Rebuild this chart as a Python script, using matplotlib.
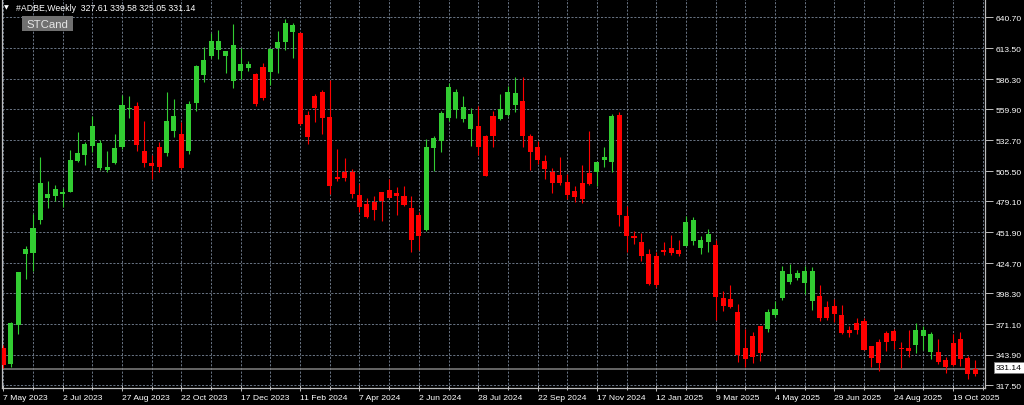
import matplotlib
matplotlib.use("Agg")
import matplotlib.pyplot as plt
from matplotlib.patches import Rectangle

# ---------------- data ----------------
symbol = "#ADBE,Weekly"
header_ohlc = ["327.61", "339.58", "325.05", "331.14"]
indicator = "STCand"

opens = [349.8, 335.9, 370.2, 432.4, 433.3, 462.8, 481.6, 483.9, 485.7, 487.2,
         514.1, 519.9, 527.3, 508.3, 506.5, 512.6, 526.4, 559.8, 563.0, 523.5,
         512.4, 527.0, 521.4, 540.8, 538.1, 523.5, 565.6, 590.3, 607.0, 612.2,
         606.4, 584.5, 593.2, 596.4, 590.6, 597.0, 592.4, 613.7, 618.7, 627.5,
         626.6, 554.8, 571.8, 575.1, 553.0, 500.3, 505.0, 505.0, 484.5, 476.3,
         478.1, 486.9, 488.6, 486.3, 483.9, 473.1, 466.9, 453.7, 525.6, 532.2,
         552.5, 559.0, 551.6, 542.5, 544.9, 536.6, 553.9, 551.3, 554.8, 563.9,
         567.1, 536.6, 526.7, 514.7, 505.0, 502.4, 496.2, 488.0, 495.1, 503.9,
         504.5, 515.5, 513.3, 554.8, 466.3, 448.7, 442.9, 432.9, 430.9, 436.5,
         437.9, 436.5, 439.9, 444.3, 437.9, 443.5, 440.8, 393.7, 393.1, 381.4,
         350.0, 360.8, 369.6, 366.7, 379.1, 393.7, 407.8, 411.9, 407.2, 391.6,
         395.4, 386.0, 387.2, 379.0, 365.9, 372.0, 373.8, 351.5, 355.6, 362.9,
         364.7, 350.0, 350.0, 352.7, 360.9, 346.8, 346.2, 339.8, 354.4, 357.9,
         341.5, 327.61]
highs = [352.7, 373.2, 417.0, 440.0, 467.8, 517.6, 496.8, 493.3, 490.9, 524.3,
         539.9, 530.8, 553.7, 533.1, 523.5, 538.1, 572.4, 571.3, 566.0, 549.8,
         519.7, 531.4, 575.3, 568.9, 548.9, 566.9, 598.8, 614.3, 626.9, 629.8,
         611.5, 634.8, 613.5, 602.6, 591.5, 600.5, 613.5, 628.7, 639.2, 635.7,
         627.5, 558.6, 573.3, 576.8, 586.0, 524.9, 516.8, 507.4, 494.2, 481.6,
         483.9, 487.4, 498.6, 491.3, 492.7, 483.9, 469.3, 533.7, 536.1, 558.6,
         583.0, 577.7, 571.8, 560.7, 563.0, 537.0, 558.1, 573.3, 580.0, 588.0,
         588.0, 538.1, 532.2, 519.7, 508.0, 518.2, 503.0, 492.7, 510.9, 541.0,
         513.8, 526.4, 555.7, 557.7, 474.6, 452.6, 451.1, 437.0, 434.7, 442.9,
         449.4, 445.2, 465.8, 465.2, 448.7, 454.6, 445.2, 400.4, 405.4, 388.7,
         366.7, 363.8, 369.6, 384.3, 391.6, 422.4, 423.6, 418.3, 422.4, 420.9,
         405.4, 391.6, 393.1, 387.8, 369.0, 376.7, 376.1, 352.1, 357.9, 365.3,
         366.7, 355.0, 366.1, 372.0, 369.0, 363.8, 357.9, 341.8, 362.1, 364.4,
         343.3, 339.58]
lows = [332.2, 333.6, 362.0, 410.7, 418.0, 459.0, 473.4, 479.2, 474.0, 487.0,
        513.3, 510.9, 522.0, 506.2, 504.5, 511.5, 524.9, 552.5, 523.5, 509.1,
        498.6, 505.0, 519.1, 535.8, 507.4, 520.6, 558.6, 583.6, 604.7, 604.1,
        591.8, 578.6, 586.5, 593.2, 563.0, 568.3, 581.2, 591.8, 612.2, 604.7,
        546.0, 529.3, 548.4, 538.1, 485.4, 497.2, 497.2, 481.6, 469.3, 464.0,
        462.5, 461.4, 481.5, 466.9, 475.1, 434.1, 436.4, 453.1, 505.9, 522.6,
        549.6, 552.5, 548.9, 527.8, 519.7, 501.0, 526.4, 550.4, 554.2, 557.7,
        526.4, 506.8, 511.8, 498.6, 486.3, 493.3, 481.0, 478.1, 477.5, 493.3,
        492.7, 508.9, 505.0, 457.0, 434.1, 441.2, 426.5, 405.4, 403.9, 431.8,
        431.8, 430.6, 439.4, 440.6, 432.7, 434.7, 374.9, 382.6, 384.9, 338.0,
        333.0, 337.0, 338.9, 364.4, 377.0, 392.5, 406.6, 410.1, 397.5, 383.7,
        373.8, 374.3, 373.2, 362.3, 359.4, 362.3, 348.0, 333.0, 330.1, 347.7,
        349.1, 332.1, 341.8, 345.6, 348.5, 340.4, 336.0, 328.1, 334.5, 333.9,
        322.8, 325.05]
closes = [335.1, 372.0, 416.8, 437.0, 455.2, 495.0, 485.4, 489.5, 487.0, 515.3,
          521.2, 529.3, 544.9, 530.5, 508.9, 525.8, 563.6, 561.0, 528.7, 512.6,
          510.0, 509.4, 549.6, 553.9, 508.2, 564.5, 597.9, 602.9, 619.9, 619.9,
          611.1, 616.1, 599.7, 599.7, 564.5, 569.5, 612.9, 618.7, 635.7, 633.9,
          546.9, 535.8, 561.0, 551.9, 492.0, 498.6, 499.2, 485.4, 474.2, 465.2,
          471.6, 479.5, 482.1, 483.9, 476.0, 444.9, 448.7, 526.4, 534.4, 556.6,
          579.4, 575.1, 562.1, 555.7, 526.4, 501.5, 536.1, 559.8, 575.3, 574.4,
          536.6, 522.0, 515.5, 507.4, 495.1, 495.1, 484.5, 483.0, 481.0, 494.2,
          513.3, 518.2, 554.2, 466.9, 448.2, 446.4, 430.6, 406.3, 405.4, 434.1,
          433.8, 432.7, 460.8, 462.5, 445.2, 450.2, 395.1, 386.7, 385.8, 344.0,
          340.0, 342.0, 345.6, 381.9, 384.3, 417.7, 415.1, 416.0, 417.7, 417.4,
          376.7, 376.7, 379.9, 363.2, 362.9, 366.1, 348.5, 340.9, 337.1, 355.0,
          356.5, 349.1, 347.7, 365.9, 365.9, 362.1, 338.0, 333.6, 335.1, 340.4,
          327.5, 331.14]
# candle colour state drawn by the STCand indicator (G = bull, R = bear)
candle_state = ("R" "GGGGGGGGGGGGGGGGG" "RRRR" "GG" "R" "GGGGGGGGG" "RR" "GGGG"
                "RRRRRRRRRRRRRRRRR" "GGGGGGG" "RRR" "GGG" "RRRRRRRRRR" "GGG"
                "RRRRRRRRR" "GGGG" "RRRRRRR" "GGGGGGG" "RRRRRRRRRRRRR" "GGG"
                "RRRRRR")
date_labels = ["7 May 2023", "2 Jul 2023", "27 Aug 2023", "22 Oct 2023",
               "17 Dec 2023", "11 Feb 2024", "7 Apr 2024", "2 Jun 2024",
               "28 Jul 2024", "22 Sep 2024", "17 Nov 2024", "12 Jan 2025",
               "9 Mar 2025", "4 May 2025", "29 Jun 2025", "24 Aug 2025",
               "19 Oct 2025"]
weeks_per_label = 8
price_ticks = [640.70, 613.50, 586.30, 559.90, 532.70, 505.50, 479.10,
               451.90, 424.70, 398.30, 371.10, 343.90, 317.50]
last_price = 331.14

# ---------------- styling ----------------
W, H = 1024, 406
BG = "black"
GREEN = "#32cd32"
RED = "#ff0000"
GRID = "#6a7585"
FRAME = "#bdbdbd"
FONT = "Liberation Sans"

fig = plt.figure(figsize=(W / 100, H / 100), dpi=100, facecolor=BG)
ax_l, ax_r, ax_t, ax_b = 2, 985, 0, 389
ax = fig.add_axes([ax_l / W, 1 - ax_b / H, (ax_r - ax_l) / W, (ax_b - ax_t) / H])
ax.set_facecolor(BG)

n = len(opens)
xs = list(range(n))
cols = [GREEN if s == "G" else RED for s in candle_state]

ax.vlines(xs, lows, highs, colors=cols, linewidth=0.8, zorder=3)
bottoms = [min(o, c) for o, c in zip(opens, closes)]
heights = [max(abs(c - o), 1.0) for o, c in zip(opens, closes)]
ax.bar(xs, heights, bottom=bottoms, width=0.68, color=cols, linewidth=0, zorder=4)

# axes scales (pixel mapping: candle i centre at 3.3 + 7.42*i px)
ax.set_xlim((ax_l - 3.3) / 7.42, (ax_r - 3.3) / 7.42)
ax.set_ylim(656.8 - 0.879 * ax_b, 656.8 - 0.879 * ax_t)

# grid
ax.set_yticks(price_ticks)
ax.set_yticklabels([f"{p:.2f}" for p in price_ticks])
major_x = [i * weeks_per_label for i in range(len(date_labels))]
minor_x = [m + weeks_per_label // 2 for m in major_x if m + weeks_per_label // 2 < n + 1]
ax.set_xticks(major_x)
ax.set_xticklabels(date_labels, ha="left")
ax.set_xticks(minor_x, minor=True)
ax.grid(True, which="both", axis="x", color=GRID, linestyle=(0, (2.2, 1.6)), linewidth=0.7, zorder=1)
ax.grid(True, which="major", axis="y", color=GRID, linestyle=(0, (2.2, 1.6)), linewidth=0.7, zorder=1)

ax.yaxis.tick_right()
ax.tick_params(axis="y", which="both", colors=FRAME, labelcolor="white", length=6,
               width=0.7, pad=2, labelsize=6.1)
ax.tick_params(axis="x", which="major", colors=FRAME, labelcolor="white", length=5,
               width=0.7, pad=1.5, direction="inout", labelsize=6.1)
ax.tick_params(axis="x", which="minor", colors=FRAME, length=3, width=0.7, direction="inout")
for lab in ax.get_xticklabels() + ax.get_yticklabels():
    lab.set_fontfamily(FONT)

for side in ["left", "right", "bottom"]:
    ax.spines[side].set_color(FRAME)
    ax.spines[side].set_linewidth(0.9)
ax.spines["top"].set_visible(False)

# last price line and label
ax.axhline(last_price, color="#808080", linewidth=1.1, zorder=2)
ax.annotate(f"{last_price:.2f}", xy=(1, last_price), xycoords=("axes fraction", "data"),
            xytext=(11, 2), textcoords="offset pixels", ha="left", va="center",
            fontsize=6.1, family=FONT, color="black",
            bbox=dict(boxstyle="square,pad=0.22", fc="white", ec="#808080", lw=0.6),
            annotation_clip=False, zorder=6)

# header
fig.text(4 / W, 1 - 8 / H, "\u25bc", color="white", fontsize=4.5, va="center", ha="left",
         family="DejaVu Sans")
fig.text(16 / W, 1 - 8.5 / H, symbol + "  " + " ".join(header_ohlc), color="white",
         fontsize=6.3, va="center", ha="left", family=FONT)
fig.patches.append(Rectangle((22 / W, 1 - 32 / H), 51 / W, 15.5 / H, transform=fig.transFigure,
                             facecolor="#707070", edgecolor="none"))
fig.text(47.5 / W, 1 - 24.5 / H, indicator, color="#e6e6e6", fontsize=8.2,
         va="center", ha="center", family=FONT)

fig.savefig("out.png", dpi=100, facecolor=BG)
